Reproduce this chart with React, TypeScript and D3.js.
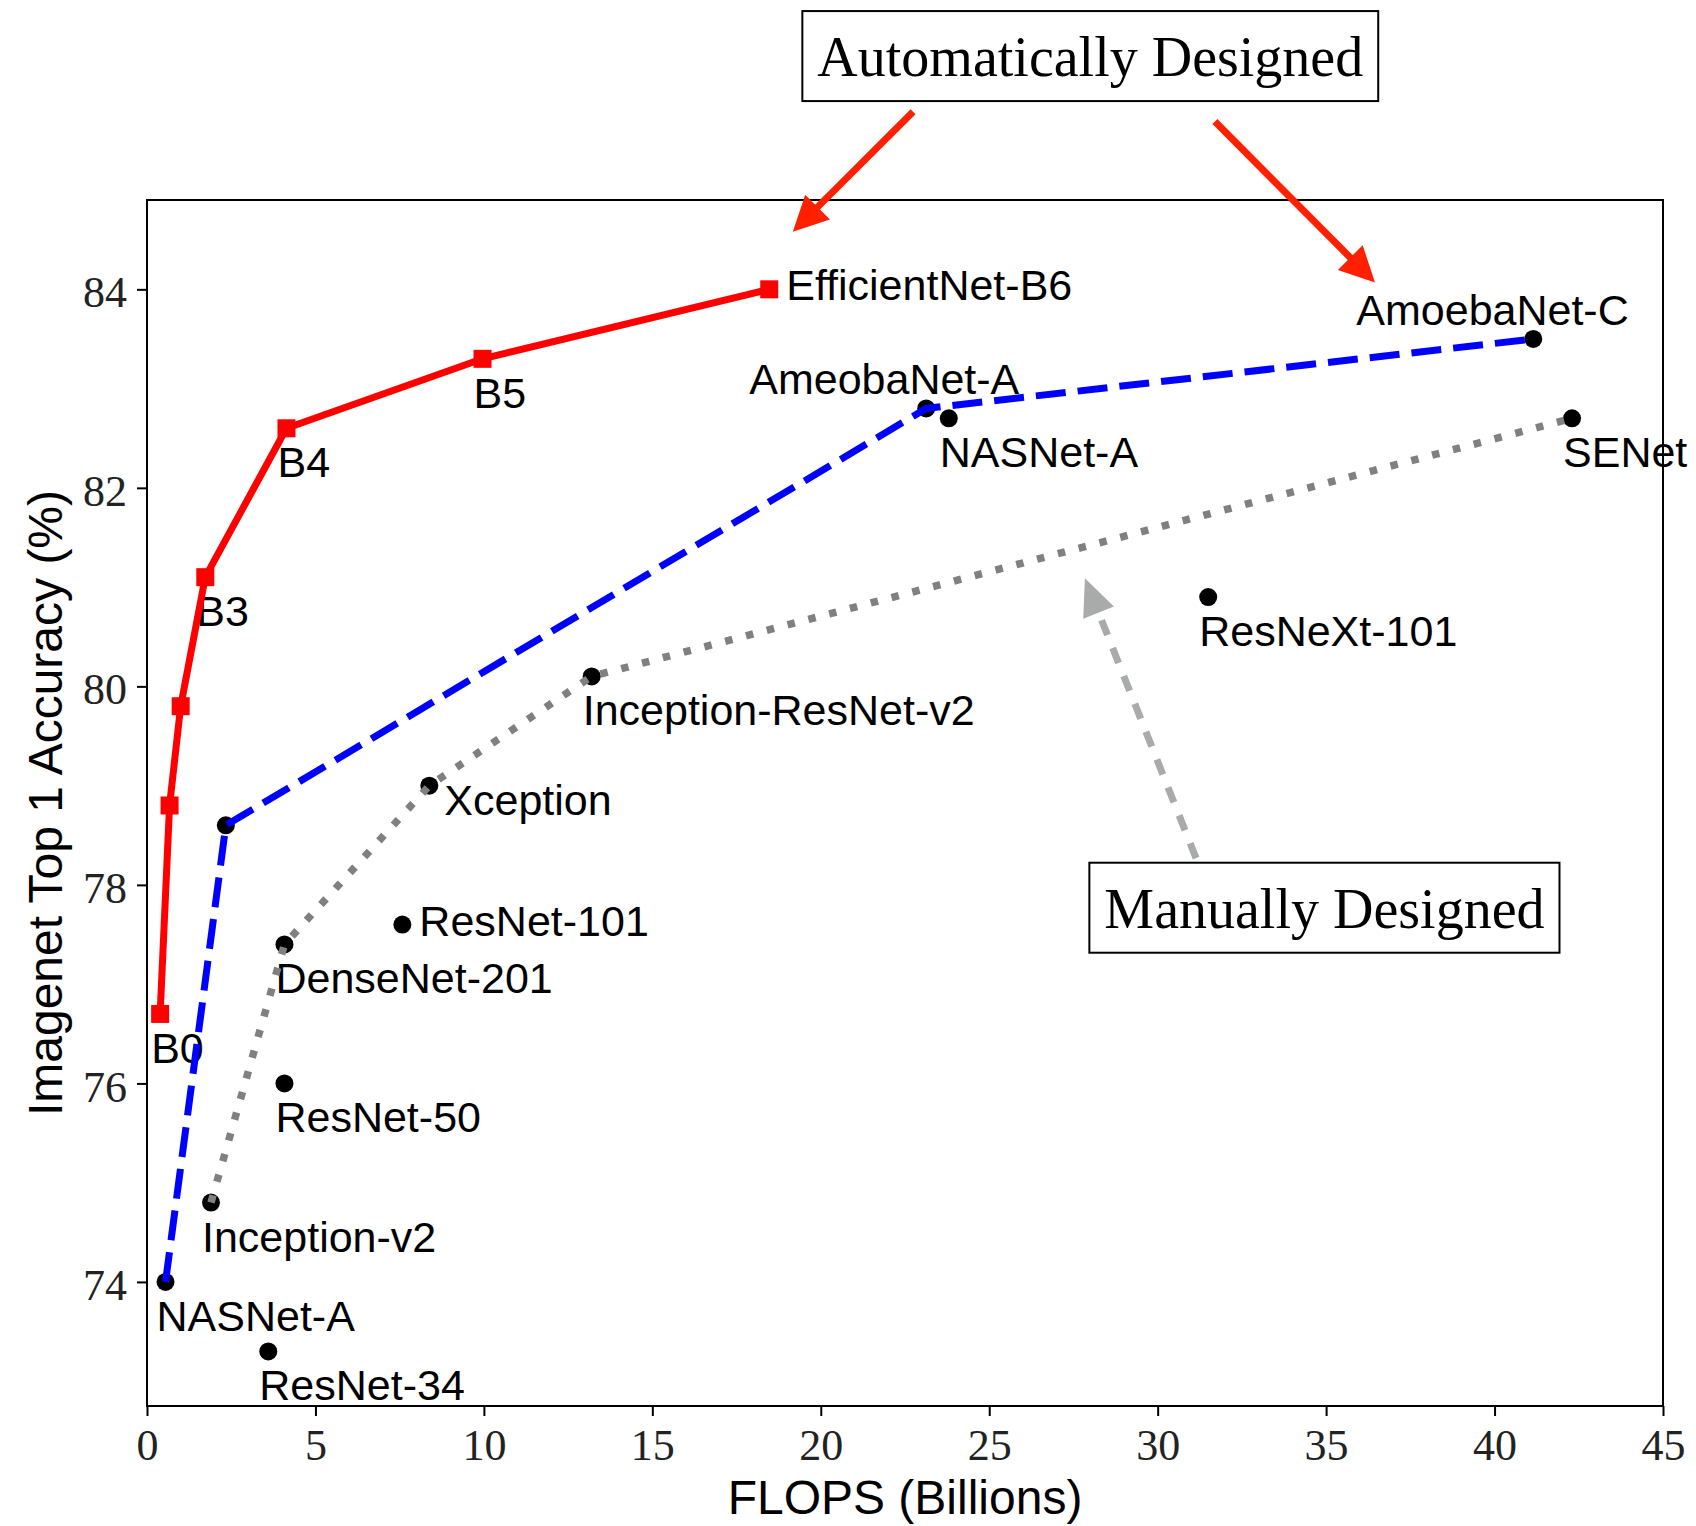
import React, { useEffect, useRef } from 'react'
import * as d3 from 'd3'

// EfficientNet family (red)
const effNames = ['B0', 'B1', 'B2', 'B3', 'B4', 'B5', 'B6']
const effFlops = [0.39, 0.67, 1.0, 1.73, 4.14, 9.96, 18.47]
const effAcc = [76.7, 78.8, 79.8, 81.1, 82.6, 83.3, 84.0]
const effLabels = ['B0', '', '', 'B3', 'B4', 'B5', 'EfficientNet-B6']

// NAS models (blue dashed)
const nasFlops = [0.55, 2.34, 23.13, 41.15]
const nasAcc = [74.0, 78.6, 82.8, 83.5]
const nasLabels = ['NASNet-A', '', 'AmeobaNet-A', 'AmoebaNet-C']

// manually designed frontier (gray dotted)
const manFlops = [1.9, 4.08, 8.38, 13.2, 42.3]
const manAcc = [74.8, 77.4, 79.0, 80.1, 82.7]
const manLabels = ['Inception-v2', 'DenseNet-201', 'Xception', 'Inception-ResNet-v2', 'SENet']

// remaining points
const otherFlops = [23.8, 3.6, 4.08, 7.58, 31.5]
const otherAcc = [82.7, 73.3, 76.0, 77.6, 80.9]
const otherLabels = ['NASNet-A', 'ResNet-34', 'ResNet-50', 'ResNet-101', 'ResNeXt-101']

const xTicks = [0, 5, 10, 15, 20, 25, 30, 35, 40, 45]
const yTicks = [74, 76, 78, 80, 82, 84]

// where a label sits relative to its point (px)
const labelPlace: Record<string, string> = {
  'EfficientNet-B6': 'right',
  'ResNet-101': 'right',
  'Xception': 'rightBelow',
  'AmeobaNet-A': 'aboveLeft',
  'AmoebaNet-C': 'aboveLeft',
}
const placeOffset: Record<string, [number, number]> = {
  below: [-9, 49],
  right: [17, 11],
  rightBelow: [15, 29],
  aboveLeft: [-177, -14],
}

const W = 1696
const H = 1526
const SANS = '"Liberation Sans", Arial, sans-serif'
const SERIF = '"Liberation Serif", "Times New Roman", serif'

const App = () => {
  const svgRef = useRef<SVGSVGElement>(null)

  useEffect(() => {
    const svg = d3.select(svgRef.current)
    svg.selectAll('*').remove()
    svg.append('rect').attr('width', W).attr('height', H).attr('fill', '#fff')

    const x = d3.scaleLinear().domain([0, 45]).range([147, 1663])
    const y = d3.scaleLinear().domain([72.75, 84.9]).range([1406, 200])

    // axes
    const gx = svg.append('g')
      .attr('transform', 'translate(0,1406)')
      .call(d3.axisBottom(x).tickValues(xTicks).tickSize(10).tickSizeOuter(0).tickFormat(d3.format('d')))
    gx.select('.domain').remove()
    gx.selectAll('line').attr('stroke', '#000').attr('stroke-width', 2)
    gx.selectAll('text')
      .attr('y', 54).attr('dy', 0)
      .attr('font-family', SERIF).attr('font-size', 44).attr('fill', '#222')

    const gy = svg.append('g')
      .attr('transform', 'translate(147,0)')
      .call(d3.axisLeft(y).tickValues(yTicks).tickSize(10).tickSizeOuter(0).tickFormat(d3.format('d')))
    gy.select('.domain').remove()
    gy.selectAll('line').attr('stroke', '#000').attr('stroke-width', 2)
    gy.selectAll('text')
      .attr('x', -20).attr('dy', '0.4em')
      .attr('font-family', SERIF).attr('font-size', 44).attr('fill', '#222')

    svg.append('rect')
      .attr('x', x(0)).attr('y', y(84.9))
      .attr('width', x(45) - x(0)).attr('height', y(72.75) - y(84.9))
      .attr('fill', 'none').attr('stroke', '#000').attr('stroke-width', 2)

    svg.append('text')
      .attr('x', (x(0) + x(45)) / 2).attr('y', 1514)
      .attr('text-anchor', 'middle')
      .attr('font-family', SANS).attr('font-size', 48)
      .text('FLOPS (Billions)')

    svg.append('text')
      .attr('transform', `translate(62,${(y(72.75) + y(84.9)) / 2}) rotate(-90)`)
      .attr('text-anchor', 'middle')
      .attr('font-family', SANS).attr('font-size', 48)
      .text('Imagenet Top 1 Accuracy (%)')

    // black dots (under the lines)
    const dotX = [...nasFlops, ...manFlops, ...otherFlops]
    const dotY = [...nasAcc, ...manAcc, ...otherAcc]
    svg.append('g').selectAll('circle')
      .data(dotX)
      .join('circle')
      .attr('cx', (d) => x(d))
      .attr('cy', (d, i) => y(dotY[i]))
      .attr('r', 9)
      .attr('fill', '#000')

    // labels
    const labs: [number, number, string][] = []
    effLabels.forEach((l, i) => l && labs.push([effFlops[i], effAcc[i], l]))
    nasLabels.forEach((l, i) => l && labs.push([nasFlops[i], nasAcc[i], l]))
    manLabels.forEach((l, i) => l && labs.push([manFlops[i], manAcc[i], l]))
    otherLabels.forEach((l, i) => l && labs.push([otherFlops[i], otherAcc[i], l]))
    svg.append('g').selectAll('text')
      .data(labs)
      .join('text')
      .attr('x', (d) => x(d[0]) + placeOffset[labelPlace[d[2]] || 'below'][0])
      .attr('y', (d) => y(d[1]) + placeOffset[labelPlace[d[2]] || 'below'][1])
      .attr('font-family', SANS).attr('font-size', 43).attr('fill', '#000')
      .text((d) => d[2])

    const line = d3.line<number>()

    // gray dotted
    svg.append('path')
      .attr('d', line(manFlops.map((d, i) => [x(d), y(manAcc[i])]) as any))
      .attr('fill', 'none').attr('stroke', '#808080').attr('stroke-width', 7.5)
      .attr('stroke-dasharray', '7.5 14')

    // blue dashed
    svg.append('path')
      .attr('d', line(nasFlops.map((d, i) => [x(d), y(nasAcc[i])]) as any))
      .attr('fill', 'none').attr('stroke', '#0000ff').attr('stroke-width', 7)
      .attr('stroke-dasharray', '30 12')

    // red solid with squares
    svg.append('path')
      .attr('d', line(effFlops.map((d, i) => [x(d), y(effAcc[i])]) as any))
      .attr('fill', 'none').attr('stroke', '#ff0000').attr('stroke-width', 7)
      .attr('stroke-linejoin', 'round')
    svg.append('g').selectAll('rect')
      .data(effFlops)
      .join('rect')
      .attr('x', (d) => x(d) - 9)
      .attr('y', (d, i) => y(effAcc[i]) - 9)
      .attr('width', 18).attr('height', 18)
      .attr('fill', '#ff0000')

    // annotation arrows
    const arrow = (fx: number, fy: number, tx: number, ty: number, color: string,
      headLen: number, headW: number, dash: string | null) => {
      const x1 = x(fx), y1 = y(fy), x2 = x(tx), y2 = y(ty)
      const len = Math.hypot(x2 - x1, y2 - y1)
      const ux = (x2 - x1) / len, uy = (y2 - y1) / len
      const bx = x2 - ux * headLen, by = y2 - uy * headLen
      const p = svg.append('line')
        .attr('x1', x1).attr('y1', y1).attr('x2', bx + ux * 4).attr('y2', by + uy * 4)
        .attr('stroke', color).attr('stroke-width', 7)
      if (dash) p.attr('stroke-dasharray', dash)
      svg.append('polygon')
        .attr('points', [
          [x2, y2],
          [bx - uy * headW / 2, by + ux * headW / 2],
          [bx + uy * headW / 2, by - ux * headW / 2],
        ].map((q) => q.join(',')).join(' '))
        .attr('fill', color)
    }
    arrow(22.74, 85.79, 19.17, 84.58, '#ff2000', 35, 35, null)
    arrow(31.7, 85.69, 36.45, 84.07, '#ff2000', 35, 35, null)
    arrow(31.14, 78.27, 27.84, 81.09, '#a9abaa', 37, 33, '16 14')

    // boxed notes
    const note = (cx: number, cy: number, txt: string) => {
      const px = x(cx), py = y(cy)
      const g = svg.append('g')
      const r = g.append('rect')
      const t = g.append('text')
        .attr('x', px).attr('y', py + 20)
        .attr('text-anchor', 'middle')
        .attr('font-family', SERIF).attr('font-size', 56).attr('fill', '#000')
        .text(txt)
      const tw = (t.node() as SVGTextElement).getComputedTextLength()
      r.attr('x', px - tw / 2 - 15).attr('y', py - 45)
        .attr('width', tw + 30).attr('height', 90)
        .attr('fill', '#fff').attr('stroke', '#000').attr('stroke-width', 2)
    }
    note(28, 86.35, 'Automatically Designed')
    note(34.95, 77.77, 'Manually Designed')
  }, [])

  return (
    <div style={{ position: 'absolute', left: 0, top: 0 }}>
      <svg ref={svgRef} width={W} height={H} style={{ display: 'block' }} />
    </div>
  )
}

export default App
